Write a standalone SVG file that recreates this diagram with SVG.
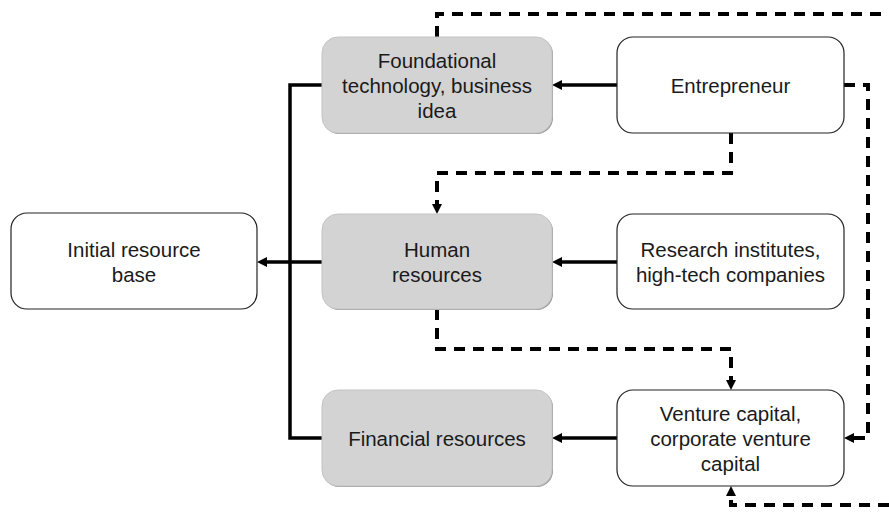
<svg xmlns="http://www.w3.org/2000/svg" width="889" height="514" viewBox="0 0 889 514">
<style>
.w{fill:#fff;stroke:#222;stroke-width:1.2}
.g{fill:#d3d3d3;stroke:#c4c4c4;stroke-width:1}
.sh{fill:#9a9a9a}
.t{font-family:"Liberation Sans",Arial,sans-serif;font-size:20.5px;fill:#1a1a1a;text-anchor:middle}
.s{fill:none;stroke:#000;stroke-width:3.5}
.d{fill:none;stroke:#000;stroke-width:4;stroke-dasharray:11 8}
</style>
<defs>
<marker id="ah" viewBox="0 0 10 10" refX="5" refY="5" markerWidth="10" markerHeight="10" markerUnits="userSpaceOnUse" orient="auto">
<path d="M0,0 L10,5 L0,10 z" fill="#000"/>
</marker>
</defs>
<g id="connectors">
<path class="s" d="M617,85 H557" marker-end="url(#ah)"/>
<path class="s" d="M617,262 H557" marker-end="url(#ah)"/>
<path class="s" d="M617,438 H557" marker-end="url(#ah)"/>
<path class="s" d="M322,262 H262" marker-end="url(#ah)"/>
<path class="s" d="M322,85 H290 V438 H322"/>
<path class="d" d="M437,37 V14 H889"/>
<path class="d" d="M844,85 H868 V438 H849" marker-end="url(#ah)"/>
<path class="d" d="M731,133 V173 H437 V209" marker-end="url(#ah)"/>
<path class="d" d="M437,309 V349 H731 V385" marker-end="url(#ah)"/>
<path class="d" d="M889,505 H731 V491" marker-end="url(#ah)"/>
</g>
<g id="foundational">
<rect class="sh" x="323" y="38" width="230" height="96" rx="16"/>
<rect class="g" x="322" y="37" width="230" height="96" rx="16"/>
<text class="t" x="437" y="68">Foundational</text>
<text class="t" x="437" y="93">technology, business</text>
<text class="t" x="437" y="118">idea</text>
</g>
<g id="entrepreneur">
<rect class="w" x="617" y="37" width="227" height="96" rx="16"/>
<text class="t" x="730.5" y="93">Entrepreneur</text>
</g>
<g id="initial">
<rect class="w" x="11" y="213" width="246" height="96" rx="16"/>
<text class="t" x="134" y="257">Initial resource</text>
<text class="t" x="134" y="282">base</text>
</g>
<g id="human">
<rect class="sh" x="323" y="215" width="230" height="95" rx="16"/>
<rect class="g" x="322" y="214" width="230" height="95" rx="16"/>
<text class="t" x="437" y="257">Human</text>
<text class="t" x="437" y="282">resources</text>
</g>
<g id="research">
<rect class="w" x="617" y="214" width="227" height="95" rx="16"/>
<text class="t" x="730.5" y="257">Research institutes,</text>
<text class="t" x="730.5" y="282">high-tech companies</text>
</g>
<g id="financial">
<rect class="sh" x="323" y="391" width="230" height="96" rx="16"/>
<rect class="g" x="322" y="390" width="230" height="96" rx="16"/>
<text class="t" x="437" y="446">Financial resources</text>
</g>
<g id="venture">
<rect class="w" x="617" y="390" width="227" height="96" rx="16"/>
<text class="t" x="730.5" y="421">Venture capital,</text>
<text class="t" x="730.5" y="446">corporate venture</text>
<text class="t" x="730.5" y="471">capital</text>
</g>
</svg>
